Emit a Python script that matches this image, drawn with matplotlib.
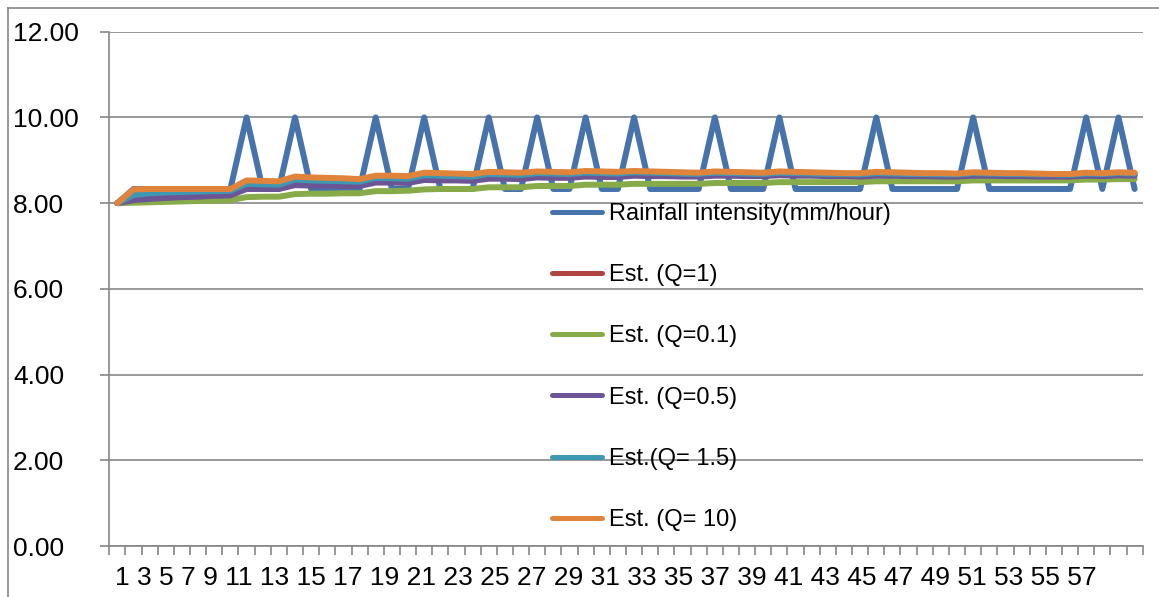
import matplotlib
matplotlib.use("Agg")
import matplotlib.pyplot as plt
from matplotlib.lines import Line2D

plt.rcParams['font.family'] = ['Liberation Sans', 'DejaVu Sans']

# time steps (categories) and the axis labels that show under them
steps = list(range(1, 65))
x_labels = [str(i) for i in range(1, 58, 2)]
y_ticks = [0, 2, 4, 6, 8, 10, 12]

rainfall = [8.00, 8.33, 8.33, 8.33, 8.33, 8.33, 8.33, 8.33,
            10.0, 8.33, 8.33, 10.0, 8.33, 8.33, 8.33, 8.33,
            10.0, 8.33, 8.33, 10.0, 8.33, 8.33, 8.33, 10.0,
            8.33, 8.33, 10.0, 8.33, 8.33, 10.0, 8.33, 8.33,
            10.0, 8.33, 8.33, 8.33, 8.33, 10.0, 8.33, 8.33,
            8.33, 10.0, 8.33, 8.33, 8.33, 8.33, 8.33, 10.0,
            8.33, 8.33, 8.33, 8.33, 8.33, 10.0, 8.33, 8.33,
            8.33, 8.33, 8.33, 8.33, 10.0, 8.33, 10.0, 8.33]

est_q1 = [8.00, 8.15, 8.19, 8.22, 8.23, 8.24, 8.25, 8.26,
          8.41, 8.40, 8.40, 8.51, 8.50, 8.49, 8.48, 8.47,
          8.56, 8.55, 8.54, 8.62, 8.61, 8.60, 8.59, 8.65,
          8.64, 8.63, 8.67, 8.66, 8.65, 8.69, 8.68, 8.67,
          8.70, 8.69, 8.68, 8.67, 8.66, 8.69, 8.68, 8.67,
          8.66, 8.69, 8.68, 8.67, 8.66, 8.66, 8.65, 8.68,
          8.67, 8.66, 8.66, 8.65, 8.65, 8.68, 8.67, 8.66,
          8.66, 8.65, 8.65, 8.64, 8.67, 8.66, 8.68, 8.67]

est_q01 = [8.00, 8.01, 8.02, 8.03, 8.04, 8.05, 8.06, 8.07,
           8.14, 8.15, 8.15, 8.21, 8.22, 8.22, 8.23, 8.23,
           8.28, 8.28, 8.29, 8.32, 8.33, 8.33, 8.33, 8.37,
           8.37, 8.37, 8.40, 8.40, 8.40, 8.43, 8.43, 8.43,
           8.45, 8.45, 8.45, 8.45, 8.45, 8.47, 8.47, 8.47,
           8.47, 8.49, 8.49, 8.49, 8.49, 8.49, 8.49, 8.51,
           8.51, 8.51, 8.51, 8.51, 8.51, 8.53, 8.53, 8.53,
           8.53, 8.53, 8.53, 8.53, 8.55, 8.55, 8.56, 8.56]

est_q05 = [8.00, 8.07, 8.10, 8.12, 8.14, 8.15, 8.17, 8.18,
           8.33, 8.33, 8.33, 8.42, 8.41, 8.41, 8.40, 8.40,
           8.48, 8.48, 8.47, 8.54, 8.53, 8.53, 8.52, 8.57,
           8.57, 8.56, 8.60, 8.59, 8.59, 8.62, 8.61, 8.61,
           8.64, 8.63, 8.63, 8.62, 8.62, 8.64, 8.64, 8.63,
           8.63, 8.65, 8.64, 8.64, 8.63, 8.63, 8.62, 8.64,
           8.64, 8.63, 8.63, 8.62, 8.62, 8.64, 8.64, 8.63,
           8.63, 8.62, 8.62, 8.62, 8.64, 8.63, 8.65, 8.64]

est_q15 = [8.00, 8.19, 8.23, 8.25, 8.26, 8.27, 8.28, 8.29,
           8.45, 8.44, 8.43, 8.55, 8.53, 8.52, 8.51, 8.50,
           8.59, 8.58, 8.57, 8.65, 8.64, 8.63, 8.62, 8.68,
           8.67, 8.66, 8.70, 8.69, 8.68, 8.71, 8.70, 8.69,
           8.72, 8.71, 8.70, 8.69, 8.68, 8.71, 8.70, 8.69,
           8.68, 8.71, 8.70, 8.69, 8.68, 8.68, 8.67, 8.70,
           8.69, 8.68, 8.68, 8.67, 8.67, 8.70, 8.69, 8.68,
           8.68, 8.67, 8.67, 8.66, 8.69, 8.68, 8.70, 8.69]

est_q10 = [8.00, 8.32, 8.33, 8.33, 8.33, 8.33, 8.33, 8.33,
           8.53, 8.52, 8.51, 8.62, 8.60, 8.59, 8.58, 8.56,
           8.64, 8.64, 8.63, 8.71, 8.70, 8.69, 8.68, 8.73,
           8.72, 8.71, 8.74, 8.73, 8.72, 8.75, 8.74, 8.73,
           8.75, 8.74, 8.73, 8.72, 8.71, 8.74, 8.73, 8.72,
           8.71, 8.74, 8.73, 8.72, 8.71, 8.70, 8.70, 8.73,
           8.72, 8.71, 8.70, 8.70, 8.69, 8.72, 8.71, 8.70,
           8.70, 8.69, 8.68, 8.68, 8.71, 8.70, 8.72, 8.71]

series = [
    ("Rainfall intensity(mm/hour)", rainfall, '#4673AB'),
    ("Est. (Q=1)", est_q1, '#B0423F'),
    ("Est. (Q=0.1)", est_q01, '#88AB4A'),
    ("Est. (Q=0.5)", est_q05, '#6C5595'),
    ("Est.(Q= 1.5)", est_q15, '#3F98B1'),
    ("Est. (Q= 10)", est_q10, '#E0843B'),
]

W, H = 1159, 597
grey = '#868686'

fig = plt.figure(figsize=(W / 100, H / 100), dpi=100)
ax = fig.add_axes([109.3 / W, 1 - 546 / H, (1142.7 - 109.3) / W, (546 - 31.7) / H])

for name, vals, col in series:
    ax.plot(steps, vals, color=col, lw=4.3, label=name,
            solid_joinstyle='round', solid_capstyle='round')

ax.set_xlim(0.5, len(steps) + 0.5)
ax.set_ylim(0, 12)

# y axis
ax.set_yticks(y_ticks)
ax.set_yticklabels([f"{v:.2f}" for v in y_ticks], ha='left')
ax.tick_params(axis='y', length=6.5, width=1.2, color=grey, pad=62.8,
               labelsize=19)
ax.yaxis.grid(True, color=grey, lw=1.2)
ax.set_axisbelow(True)

# x axis: a tick at each category boundary, labels run as one line of text
ax.set_xticks([s - 0.5 for s in steps] + [len(steps) + 0.5])
ax.set_xticklabels([])
ax.tick_params(axis='x', length=6.5, width=1.2, color=grey)
fig.text(115 / W, 1 - 578 / H, " ".join(x_labels), fontsize=19,
         ha='left', va='center')

for side in ['top', 'right']:
    ax.spines[side].set_visible(False)
for side in ['left', 'bottom']:
    ax.spines[side].set_color(grey)
    ax.spines[side].set_linewidth(1.2)

leg = ax.legend(loc='upper left', bbox_to_anchor=(552 / W, 1 - 203 / H),
                bbox_transform=fig.transFigure, frameon=False, fontsize=17,
                handlelength=2.12, handletextpad=0.3, labelspacing=1.66,
                borderpad=0, borderaxespad=0)
for ln in leg.get_lines():
    ln.set_linewidth(3.6)

# chart area border (cut by the picture edge on the right and bottom)
fig.add_artist(Line2D([8 / W, 8 / W], [1 - 8 / H, 0], transform=fig.transFigure,
                      color=grey, lw=1.2))
fig.add_artist(Line2D([8 / W, 1], [1 - 8 / H, 1 - 8 / H], transform=fig.transFigure,
                      color=grey, lw=1.2))

fig.savefig("out.png", dpi=100)
